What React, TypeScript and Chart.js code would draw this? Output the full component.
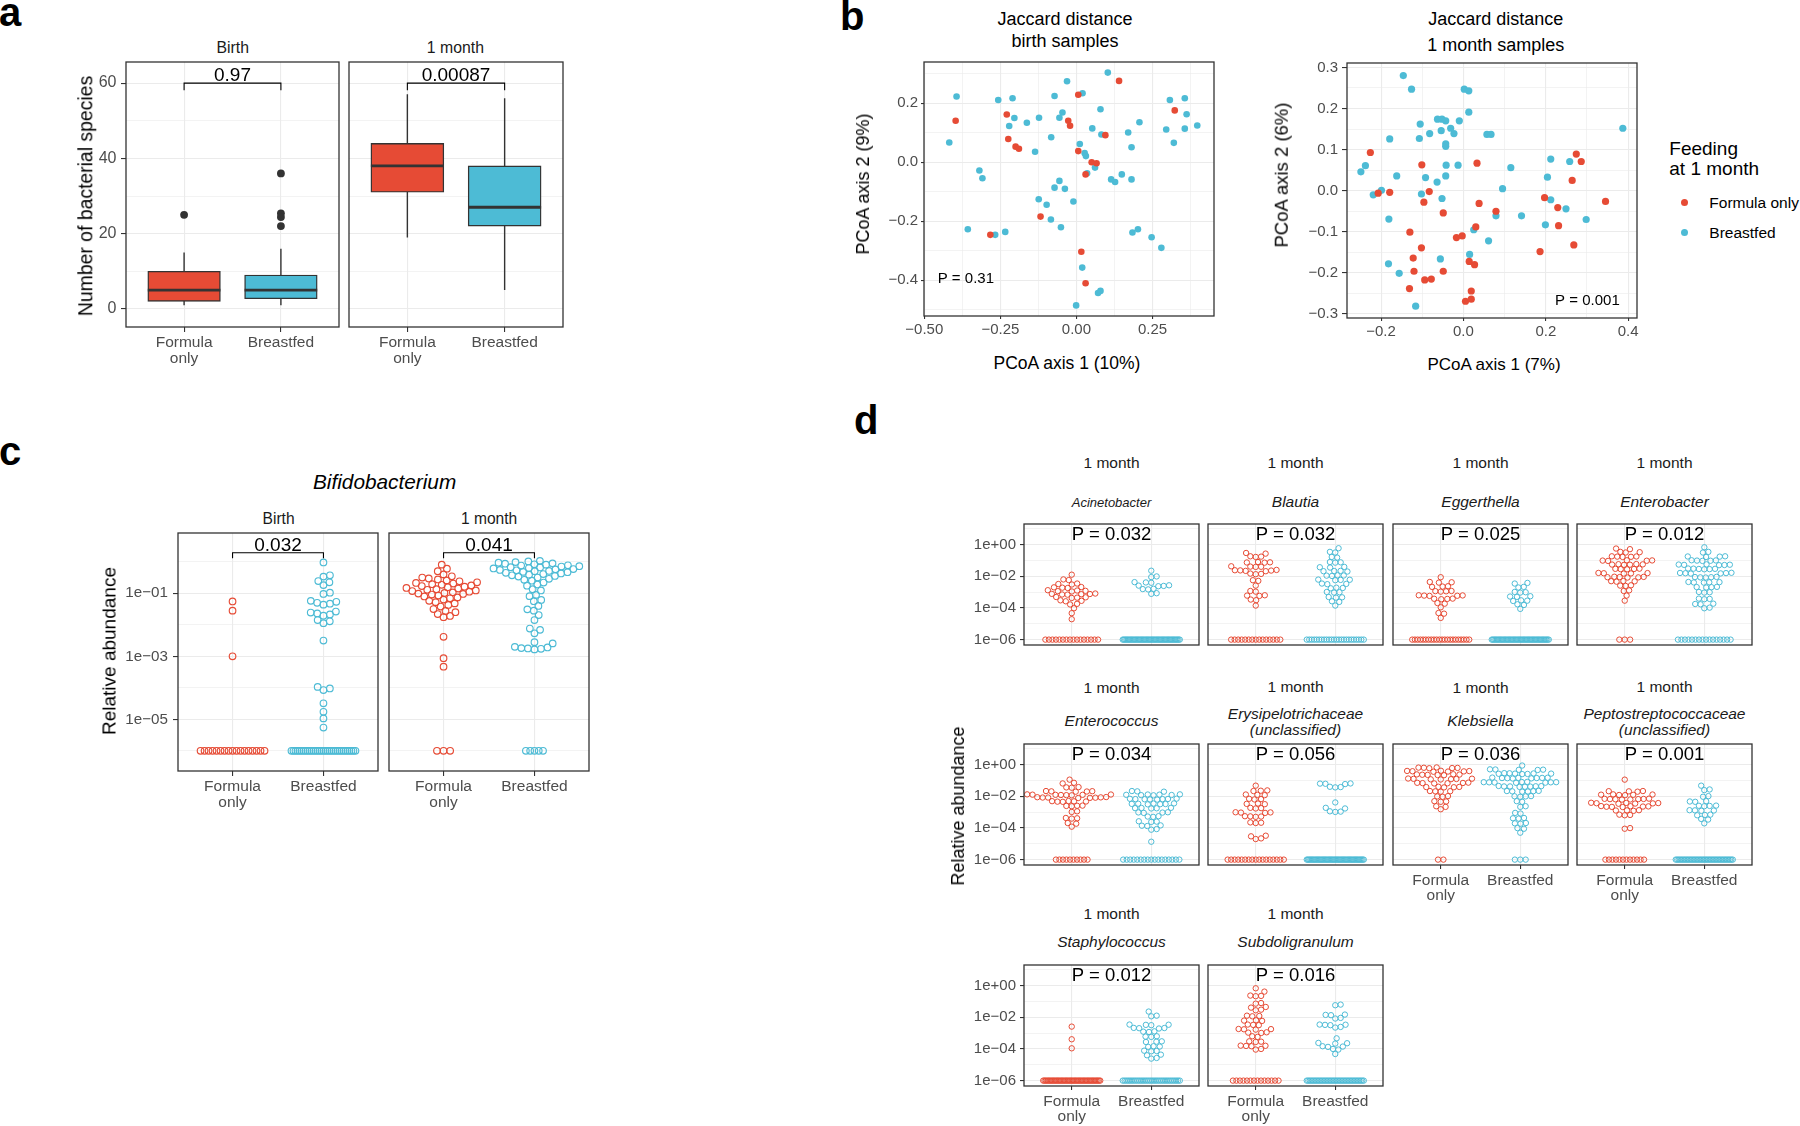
import React, { useEffect, useRef } from "react";
import { Chart, registerables } from "chart.js";

Chart.register(...registerables);

const FONT = "'Liberation Sans', Arial, Helvetica, sans-serif";
const RED = "#E64B35";
const BLUE = "#4DBBD5";
const GRID = "#EBEBEB";
const FRAME = "#333333";
const TICK_TEXT = "#4D4D4D";
const STRIP_TEXT = "#1A1A1A";
const MINUS = "\u2212";

// ================= DATA =================
const feedingGroups = ["Formula only", "Breastfed"];
const feedingTickLabels: string[][] = [["Formula", "only"], ["Breastfed"]];
const timepointLabels = ["Birth", "1 month"];

// ---- a: number of bacterial species, box stats [lower whisker, Q1, median, Q3, upper whisker]
const speciesBirthFormula = [1, 2, 5, 10, 15];
const speciesBirthBreastfed = [1, 2.7, 5, 9, 16];
const speciesMonthFormula = [19, 31, 38, 44, 57];
const speciesMonthBreastfed = [5, 22, 27, 38, 56];
const speciesBirthFormulaOutliers = [25];
const speciesBirthBreastfedOutliers = [36, 25.4, 24.4, 22];
const speciesMonthFormulaOutliers: number[] = [];
const speciesMonthBreastfedOutliers: number[] = [];
const speciesPValues = ["0.97", "0.00087"];
const speciesBracket = [58.1, 60];
const speciesTicks = [0, 20, 40, 60];
const speciesTickLabels = ["0", "20", "40", "60"];
const speciesMinorTicks = [10, 30, 50];

// ---- b: PCoA (Jaccard) coordinates [axis1, axis2]
const pcoaBirthFormula = [
  [-0.397, 0.141], [-0.229, 0.162], [-0.224, 0.079], [-0.2, 0.053], [-0.189, 0.046], [-0.027, 0.141],
  [-0.021, 0.124], [0.006, 0.229], [0.14, 0.276], [0.006, 0.038], [0.095, 0.092], [0.05, 0.0],
  [0.066, -0.003], [0.03, -0.041], [0.323, 0.176], [-0.118, -0.184], [-0.283, -0.246], [0.016, -0.303],
  [0.03, -0.41],
];
const pcoaBirthBreastfed = [
  [-0.394, 0.223], [-0.418, 0.067], [-0.257, 0.211], [-0.21, 0.217], [-0.204, 0.15], [-0.221, 0.123],
  [-0.163, 0.134], [-0.136, 0.036], [-0.123, 0.151], [-0.072, 0.225], [-0.031, 0.275], [-0.083, 0.085],
  [-0.056, 0.151], [-0.046, 0.169], [0.02, 0.234], [0.103, 0.304], [0.079, 0.18], [0.052, 0.115],
  [0.082, 0.094], [0.011, 0.062], [0.027, 0.031], [0.031, 0.021], [0.061, -0.018], [0.035, -0.037],
  [0.17, 0.101], [0.181, 0.051], [0.207, 0.136], [0.114, -0.058], [0.127, -0.067], [0.149, -0.041],
  [0.181, -0.058], [0.295, 0.111], [0.307, 0.211], [0.356, 0.217], [0.362, 0.163], [0.356, 0.114],
  [0.32, 0.066], [0.397, 0.125], [-0.319, -0.028], [-0.309, -0.054], [-0.357, -0.227], [-0.267, -0.246],
  [-0.234, -0.236], [-0.124, -0.125], [-0.098, -0.144], [-0.072, -0.086], [-0.056, -0.063], [-0.038, -0.09],
  [-0.084, -0.194], [-0.051, -0.22], [-0.01, -0.133], [0.184, -0.238], [0.202, -0.227], [0.247, -0.254],
  [0.279, -0.29], [0.019, -0.357], [0.071, -0.443], [0.079, -0.436], [-0.001, -0.485],
];
const pcoaMonthFormula = [
  [-0.226, 0.093], [-0.207, -0.006], [-0.179, -0.004], [-0.101, 0.063], [-0.083, -0.002], [-0.096, -0.028],
  [0.033, 0.067], [-0.049, -0.054], [0.038, -0.031], [0.079, -0.05], [0.03, -0.088], [-0.017, -0.114],
  [-0.003, -0.11], [-0.13, -0.101], [-0.102, -0.139], [-0.122, -0.164], [-0.12, -0.196], [-0.094, -0.217],
  [-0.078, -0.215], [-0.049, -0.196], [-0.131, -0.238], [0.014, -0.172], [0.027, -0.18], [0.019, -0.244],
  [0.005, -0.269], [0.019, -0.264], [0.274, 0.089], [0.286, 0.071], [0.264, 0.025], [0.345, -0.026],
  [0.197, -0.017], [0.229, -0.041], [0.231, -0.085], [0.268, -0.132], [0.186, -0.148],
];
const pcoaMonthBreastfed = [
  [-0.146, 0.28], [-0.126, 0.247], [0.002, 0.247], [0.013, 0.243], [0.013, 0.191], [-0.01, 0.17],
  [-0.063, 0.174], [-0.052, 0.174], [-0.043, 0.17], [-0.031, 0.152], [-0.023, 0.139], [-0.105, 0.162],
  [-0.082, 0.139], [-0.054, 0.146], [-0.107, 0.127], [-0.179, 0.126], [-0.043, 0.114], [-0.043, 0.108],
  [0.057, 0.137], [0.067, 0.137], [0.387, 0.152], [-0.238, 0.061], [-0.249, 0.046], [-0.162, 0.036],
  [-0.092, 0.032], [-0.064, 0.021], [-0.043, 0.036], [-0.042, 0.062], [-0.013, 0.062], [0.115, 0.056],
  [0.212, 0.077], [0.258, 0.071], [0.204, 0.033], [-0.199, 0.001], [-0.219, -0.01], [-0.102, -0.008],
  [-0.052, -0.019], [0.095, 0.005], [0.212, -0.022], [0.249, -0.044], [-0.181, -0.069], [0.079, -0.061],
  [0.141, -0.061], [0.199, -0.083], [0.298, -0.07], [0.025, -0.095], [0.061, -0.122], [0.015, -0.155],
  [-0.056, -0.166], [-0.182, -0.178], [-0.156, -0.201], [-0.116, -0.281],
];
const pcoaPValues = ["P = 0.31", "P = 0.001"];
const pcoaBirthXTicks = [-0.5, -0.25, 0, 0.25];
const pcoaBirthXLabels = [MINUS + "0.50", MINUS + "0.25", "0.00", "0.25"];
const pcoaBirthXMinor = [-0.375, -0.125, 0.125, 0.375];
const pcoaBirthYTicks = [-0.4, -0.2, 0, 0.2];
const pcoaBirthYLabels = [MINUS + "0.4", MINUS + "0.2", "0.0", "0.2"];
const pcoaBirthYMinor = [-0.5, -0.3, -0.1, 0.1, 0.3];
const pcoaMonthXTicks = [-0.2, 0, 0.2, 0.4];
const pcoaMonthXLabels = [MINUS + "0.2", "0.0", "0.2", "0.4"];
const pcoaMonthXMinor = [-0.1, 0.1, 0.3];
const pcoaMonthYTicks = [-0.3, -0.2, -0.1, 0, 0.1, 0.2, 0.3];
const pcoaMonthYLabels = [MINUS + "0.3", MINUS + "0.2", MINUS + "0.1", "0.0", "0.1", "0.2", "0.3"];
const pcoaMonthYMinor = [-0.25, -0.15, -0.05, 0.05, 0.15, 0.25];

// ---- c: Bifidobacterium relative abundance (log10), plus count of samples at detection floor (1e-06)
const detectionFloorExp = -6;
const bifidoBirthFormula = [-1.26, -1.55, -3.0];
const bifidoBirthFormulaFloor = 17;
const bifidoBirthBreastfed = [
  -0.02, -0.43, -0.47, -0.61, -0.65, -0.74, -0.98, -1.02, -1.24, -1.27, -1.3, -1.33, -1.36, -1.58, -1.61,
  -1.64, -1.67, -1.71, -1.85, -1.89, -1.95, -2.5, -3.97, -4.02, -4.07, -4.49, -4.76, -4.97, -5.26,
];
const bifidoBirthBreastfedFloor = 33;
const bifidoMonthFormula = [
  -0.09, -0.22, -0.3, -0.4, -0.46, -0.5, -0.53, -0.56, -0.59, -0.62, -0.65, -0.67, -0.69, -0.71, -0.73,
  -0.75, -0.77, -0.79, -0.81, -0.83, -0.85, -0.87, -0.89, -0.91, -0.93, -0.95, -0.97, -0.99, -1.01, -1.02,
  -1.04, -1.07, -1.1, -1.13, -1.16, -1.2, -1.24, -1.28, -1.32, -1.37, -1.42, -1.5, -1.56, -1.6, -1.66,
  -1.72, -1.76, -2.38, -3.06, -3.33,
];
const bifidoMonthFormulaFloor = 3;
const bifidoMonthBreastfed = [
  0.03, 0.01, -0.01, -0.03, -0.05, -0.06, -0.08, -0.09, -0.11, -0.12, -0.14, -0.15, -0.17, -0.18, -0.2,
  -0.21, -0.23, -0.24, -0.26, -0.27, -0.29, -0.3, -0.32, -0.33, -0.35, -0.37, -0.39, -0.41, -0.43, -0.45,
  -0.47, -0.5, -0.54, -0.57, -0.6, -0.66, -0.72, -0.76, -0.87, -0.91, -1.05, -1.09, -1.21, -1.25, -1.4,
  -1.51, -1.55, -1.69, -1.85, -2.12, -2.16, -2.27, -2.55, -2.59, -2.7, -2.72, -2.74, -2.75, -2.76, -2.78,
];
const bifidoMonthBreastfedFloor = 5;
const bifidoPValues = ["0.032", "0.041"];
const bifidoBracketExp = [0.111, 0.289];
const bifidoTickExps = [-5, -3, -1];
const bifidoMinorExps = [-6, -4, -2, 0];

// ---- d: genera at 1 month (log10 relative abundance) + counts at detection floor
const generaNames: string[][] = [
  ["Acinetobacter"], ["Blautia"], ["Eggerthella"], ["Enterobacter"],
  ["Enterococcus"], ["Erysipelotrichaceae", "(unclassified)"], ["Klebsiella"], ["Peptostreptococcaceae", "(unclassified)"],
  ["Staphylococcus"], ["Subdoligranulum"],
];
const generaPValues = ["0.032", "0.032", "0.025", "0.012", "0.034", "0.056", "0.036", "0.001", "0.012", "0.016"];
const acinetobacterFormula = [-1.9, -2.2, -2.24, -2.46, -2.49, -2.52, -2.68, -2.7, -2.72, -2.74, -2.88, -2.9, -2.92, -2.94, -2.96, -3.09, -3.11, -3.13, -3.15, -3.12, -3.16, -3.31, -3.33, -3.35, -3.37, -3.52, -3.55, -3.58, -3.74, -3.78, -4.02, -4.33, -4.71];
const acinetobacterBreastfed = [-1.65, -2.01, -2.05, -2.37, -2.39, -2.41, -2.57, -2.59, -2.61, -2.63, -2.79, -2.81, -2.83, -3.07, -3.11];
const blautiaFormula = [-0.53, -0.57, -0.74, -0.76, -0.78, -1.1, -1.12, -1.14, -1.13, -1.37, -1.39, -1.41, -1.4, -1.6, -1.62, -1.64, -1.66, -1.68, -1.63, -1.83, -1.85, -1.87, -2.25, -2.29, -2.59, -2.93, -2.97, -3.2, -3.22, -3.24, -3.47, -3.51, -3.85];
const blautiaBreastfed = [-0.23, -0.46, -0.5, -0.78, -0.82, -1.1, -1.12, -1.14, -1.41, -1.43, -1.45, -1.66, -1.68, -1.7, -1.67, -1.94, -1.96, -1.98, -1.95, -2.21, -2.23, -2.25, -2.22, -2.46, -2.48, -2.5, -2.72, -2.74, -2.76, -2.99, -3.01, -3.03, -3.31, -3.33, -3.35, -3.58, -3.62, -3.85];
const eggerthellaFormula = [-2.06, -2.36, -2.38, -2.4, -2.63, -2.65, -2.67, -2.93, -2.95, -2.97, -2.94, -3.2, -3.22, -3.24, -3.21, -3.23, -3.41, -3.43, -3.45, -3.42, -3.69, -3.73, -3.96, -4.32, -4.36, -4.63];
const eggerthellaBreastfed = [-2.42, -2.46, -2.67, -2.71, -2.99, -3.01, -3.03, -3.26, -3.28, -3.3, -3.52, -3.54, -3.56, -3.77, -3.81, -4.06];
const enterobacterFormula = [-0.25, -0.29, -0.46, -0.48, -0.5, -0.74, -0.76, -0.78, -0.75, -0.77, -0.99, -1.01, -1.03, -1.0, -1.02, -1.24, -1.26, -1.28, -1.25, -1.27, -1.23, -1.52, -1.54, -1.56, -1.53, -1.55, -1.79, -1.81, -1.83, -1.8, -1.82, -2.04, -2.06, -2.08, -2.05, -2.07, -2.03, -2.3, -2.32, -2.34, -2.31, -2.57, -2.59, -2.61, -2.89, -2.93, -3.22, -3.54];
const enterobacterBreastfed = [-0.17, -0.46, -0.5, -0.74, -0.76, -0.78, -0.75, -0.99, -1.01, -1.03, -1.0, -1.02, -1.26, -1.28, -1.3, -1.27, -1.29, -1.25, -1.52, -1.54, -1.56, -1.53, -1.55, -1.51, -1.79, -1.81, -1.83, -1.8, -1.82, -1.78, -2.04, -2.06, -2.08, -2.05, -2.07, -2.36, -2.38, -2.4, -2.37, -2.39, -2.67, -2.69, -2.71, -2.68, -2.99, -3.01, -3.03, -3.41, -3.43, -3.45, -3.73, -3.75, -3.77, -3.98, -4.02];
const enterococcusFormula = [-0.95, -1.15, -1.19, -1.42, -1.44, -1.46, -1.67, -1.69, -1.71, -1.68, -1.7, -1.89, -1.91, -1.93, -1.9, -1.92, -1.88, -1.94, -1.91, -2.06, -2.08, -2.1, -2.07, -2.09, -2.05, -2.11, -2.08, -2.31, -2.33, -2.35, -2.32, -2.34, -2.3, -2.59, -2.61, -2.63, -2.6, -2.95, -2.99, -3.37, -3.39, -3.41, -3.69, -3.73, -3.92];
const enterococcusBreastfed = [-1.67, -1.69, -1.71, -1.89, -1.91, -1.93, -1.9, -1.92, -1.88, -1.94, -2.16, -2.18, -2.2, -2.17, -2.19, -2.15, -2.21, -2.18, -2.46, -2.48, -2.5, -2.47, -2.49, -2.45, -2.51, -2.73, -2.75, -2.77, -2.74, -2.76, -3.01, -3.03, -3.05, -3.02, -3.26, -3.28, -3.3, -3.58, -3.6, -3.62, -3.84, -3.86, -3.88, -4.07, -4.11, -4.87];
const erysipeloFormula = [-1.33, -1.63, -1.65, -1.67, -1.89, -1.91, -1.93, -2.16, -2.18, -2.2, -2.46, -2.48, -2.5, -2.73, -2.75, -2.77, -3.01, -3.03, -3.05, -3.02, -3.26, -3.28, -3.3, -3.27, -3.65, -3.67, -3.69, -4.49, -4.53, -4.66, -4.7];
const erysipeloBreastfed = [-1.19, -1.21, -1.23, -1.2, -1.4, -1.42, -1.44, -2.39, -2.73, -2.77, -2.95, -2.97, -2.99];
const klebsiellaFormula = [-0.19, -0.21, -0.23, -0.2, -0.22, -0.18, -0.4, -0.42, -0.44, -0.41, -0.43, -0.39, -0.45, -0.62, -0.64, -0.66, -0.63, -0.65, -0.61, -0.67, -0.89, -0.91, -0.93, -0.9, -0.92, -0.88, -0.94, -1.15, -1.17, -1.19, -1.16, -1.18, -1.14, -1.4, -1.42, -1.44, -1.41, -1.43, -1.67, -1.69, -1.71, -1.68, -1.99, -2.01, -2.03, -2.31, -2.33, -2.35, -2.63, -2.67, -2.82];
const klebsiellaBreastfed = [-0.06, -0.3, -0.32, -0.34, -0.31, -0.33, -0.55, -0.57, -0.59, -0.56, -0.58, -0.54, -0.6, -0.57, -0.83, -0.85, -0.87, -0.84, -0.86, -0.82, -0.88, -0.85, -0.84, -1.1, -1.12, -1.14, -1.11, -1.13, -1.09, -1.15, -1.12, -1.11, -1.36, -1.38, -1.4, -1.37, -1.39, -1.35, -1.41, -1.38, -1.67, -1.69, -1.71, -1.68, -1.7, -1.66, -1.99, -2.01, -2.03, -2.0, -2.31, -2.35, -2.63, -2.67, -3.05, -3.09, -3.37, -3.39, -3.41, -3.69, -3.71, -3.73, -4.01, -4.05, -4.3];
const peptoFormula = [-0.95, -1.67, -1.69, -1.71, -1.68, -1.89, -1.91, -1.93, -1.9, -1.92, -1.88, -2.16, -2.18, -2.2, -2.17, -2.19, -2.15, -2.21, -2.18, -2.42, -2.44, -2.46, -2.43, -2.45, -2.41, -2.47, -2.63, -2.65, -2.67, -2.64, -2.66, -2.62, -2.68, -2.88, -2.9, -2.92, -2.89, -3.16, -3.18, -3.2, -4.01, -4.05];
const peptoBreastfed = [-1.33, -1.57, -1.61, -1.99, -2.03, -2.31, -2.33, -2.35, -2.59, -2.61, -2.63, -2.6, -2.88, -2.9, -2.92, -2.89, -3.16, -3.18, -3.2, -3.43, -3.47, -3.71];
const staphFormula = [-2.59, -3.39, -3.96];
const staphBreastfed = [-1.64, -1.9, -1.94, -2.46, -2.48, -2.5, -2.47, -2.67, -2.69, -2.71, -2.68, -2.89, -2.91, -2.93, -3.2, -3.22, -3.24, -3.52, -3.54, -3.56, -3.83, -3.85, -3.87, -4.11, -4.13, -4.15, -4.36, -4.4, -4.57, -4.61];
const subdoliFormula = [-0.17, -0.38, -0.63, -0.65, -0.67, -1.1, -1.14, -1.35, -1.39, -1.52, -1.56, -1.9, -1.92, -1.94, -2.19, -2.21, -2.23, -2.46, -2.48, -2.5, -2.74, -2.76, -2.78, -2.75, -2.95, -2.97, -2.99, -3.2, -3.24, -3.52, -3.54, -3.56, -3.79, -3.81, -3.83, -3.8, -4.0, -4.04];
const subdoliBreastfed = [-1.2, -1.24, -1.83, -1.85, -1.87, -2.04, -2.08, -2.46, -2.48, -2.5, -2.47, -2.61, -2.65, -3.33, -3.62, -3.64, -3.66, -3.83, -3.85, -3.87, -4.0, -4.04, -4.32];
const generaFormula = [acinetobacterFormula, blautiaFormula, eggerthellaFormula, enterobacterFormula, enterococcusFormula, erysipeloFormula, klebsiellaFormula, peptoFormula, staphFormula, subdoliFormula];
const generaBreastfed = [acinetobacterBreastfed, blautiaBreastfed, eggerthellaBreastfed, enterobacterBreastfed, enterococcusBreastfed, erysipeloBreastfed, klebsiellaBreastfed, peptoBreastfed, staphBreastfed, subdoliBreastfed];
const generaFormulaFloor = [16, 15, 22, 3, 10, 17, 2, 12, 45, 14];
const generaBreastfedFloor = [47, 24, 46, 16, 17, 49, 3, 40, 32, 39];
const generaTickExps = [-6, -4, -2, 0];
const generaMinorExps = [-5, -3, -1, 1];

// ================= LAYOUT =================
type Geom = { left: number; top: number; width: number; height: number; yAxis: number; xAxis: number };
const PAD = 3;
const A_GEOM: Geom[] = [
  { left: 126, top: 62, width: 213, height: 265, yAxis: 60, xAxis: 44 },
  { left: 349, top: 62, width: 214, height: 265, yAxis: 0, xAxis: 44 },
];
const A_Y = [-4.8, 65.6];
const B_GEOM: Geom[] = [
  { left: 924, top: 62, width: 290, height: 254, yAxis: 60, xAxis: 30 },
  { left: 1347, top: 63, width: 290, height: 255, yAxis: 60, xAxis: 30 },
];
const B_RANGE = [
  { x: [-0.501, 0.452], y: [-0.521, 0.34] },
  { x: [-0.2827, 0.4214], y: [-0.3097, 0.3107] },
];
const C_GEOM: Geom[] = [
  { left: 178, top: 533, width: 200, height: 238, yAxis: 60, xAxis: 44 },
  { left: 389, top: 533, width: 200, height: 238, yAxis: 0, xAxis: 44 },
];
const C_Y = [-6.64, 0.914];
const D_COLS = [1024, 1208, 1393, 1577];
const D_ROWS = [524, 744, 965];
const D_W = 175;
const D_H = 121;
const D_Y = [-6.34, 1.3];
const X_RANGE = [0.4, 2.6];

function expLabel(e: number) {
  const s = e < 0 ? MINUS : "+";
  return "1e" + s + String(Math.abs(e)).padStart(2, "0");
}

const near = (a: number, b: number) => Math.abs(a - b) < 1e-7;

function zeroPadding(s: any) {
  s.paddingTop = 0;
  s.paddingBottom = 0;
  s.paddingLeft = 0;
  s.paddingRight = 0;
}

function linAxis(o: any) {
  const isMajor = (v: number) => o.major.some((m: number) => near(m, v));
  return {
    type: "linear",
    min: o.min,
    max: o.max,
    bounds: "data",
    offset: false,
    afterBuildTicks: (s: any) => {
      s.ticks = [...o.major, ...o.minor].map((v: number) => ({ value: v }));
    },
    afterFit: (s: any) => {
      if (o.horizontal) s.height = o.fit;
      else s.width = o.fit;
      zeroPadding(s);
    },
    ticks: {
      display: o.show,
      autoSkip: false,
      maxRotation: 0,
      minRotation: 0,
      padding: o.pad,
      font: { family: FONT, size: o.size, lineHeight: o.lineHeight ?? 1.2 },
      color: TICK_TEXT,
      callback: (v: number) => {
        const i = o.major.findIndex((m: number) => near(m, v));
        return i >= 0 ? o.labels[i] : "";
      },
    },
    grid: {
      offset: false,
      drawTicks: o.show,
      tickLength: o.tickLen,
      tickWidth: 1.1,
      color: GRID,
      lineWidth: (c: any) => (c.tick && isMajor(c.tick.value) ? 1.1 : 0.6),
      tickColor: (c: any) => (c.tick && isMajor(c.tick.value) ? FRAME : "rgba(0,0,0,0)"),
    },
    border: { display: false },
  };
}

function logAxis(o: any) {
  const isMajor = (v: number) => o.major.some((e: number) => Math.abs(Math.log10(v) - e) < 1e-6);
  return {
    type: "logarithmic",
    min: Math.pow(10, o.min),
    max: Math.pow(10, o.max),
    bounds: "data",
    afterBuildTicks: (s: any) => {
      s.ticks = [...o.major, ...o.minor].map((e: number) => ({ value: Math.pow(10, e) }));
    },
    afterFit: (s: any) => {
      s.width = o.fit;
      zeroPadding(s);
    },
    ticks: {
      display: o.show,
      autoSkip: false,
      padding: o.pad ?? 4,
      font: { family: FONT, size: o.size },
      color: TICK_TEXT,
      callback: (v: number) => (isMajor(v) ? expLabel(Math.round(Math.log10(v))) : ""),
    },
    grid: {
      drawTicks: o.show,
      tickLength: o.tickLen ?? 4,
      tickWidth: 1.1,
      color: GRID,
      lineWidth: (c: any) => (c.tick && isMajor(c.tick.value) ? 1.1 : 0.6),
      tickColor: (c: any) => (c.tick && isMajor(c.tick.value) ? FRAME : "rgba(0,0,0,0)"),
    },
    border: { display: false },
  };
}

function catAxis(o: any) {
  return linAxis({
    min: X_RANGE[0],
    max: X_RANGE[1],
    major: [1, 2],
    minor: [],
    labels: feedingTickLabels,
    show: o.show,
    size: o.size,
    lineHeight: o.lineHeight,
    pad: o.pad,
    tickLen: o.tickLen ?? 4,
    fit: o.fit,
    horizontal: true,
  });
}

type TextItem = { text: string; x: number; y: number; dy?: number; size: number; align?: CanvasTextAlign };
function decor(texts: TextItem[]) {
  return {
    id: "decor",
    afterDatasetsDraw(chart: any) {
      const { ctx, chartArea: a, scales } = chart;
      ctx.save();
      for (const t of texts) {
        ctx.font = `${t.size}px ${FONT}`;
        ctx.fillStyle = "#000";
        ctx.textAlign = t.align ?? "center";
        ctx.textBaseline = "alphabetic";
        ctx.fillText(t.text, scales.x.getPixelForValue(t.x), scales.y.getPixelForValue(t.y) + (t.dy ?? 0));
      }
      ctx.strokeStyle = FRAME;
      ctx.lineWidth = 1.3;
      ctx.strokeRect(a.left, a.top, a.right - a.left, a.bottom - a.top);
      ctx.restore();
    },
  };
}

function baseOptions(scales: any) {
  return {
    responsive: false,
    animation: false,
    events: [],
    layout: { autoPadding: false, padding: { left: PAD, top: PAD, right: PAD, bottom: PAD } },
    plugins: { legend: { display: false }, tooltip: { enabled: false }, title: { display: false } },
    scales,
  };
}

// ---------- beeswarm layout (positions only, from values) ----------
function swarmOffsets(values: number[], pxPerDecade: number, pxPerUnit: number, spacing: number): number[] {
  const order = values.map((_, i) => i).sort((a, b) => values[a] - values[b]);
  const placed: { x: number; y: number }[] = [];
  const out: number[] = values.map(() => 0);
  const d2 = spacing * spacing;
  for (const idx of order) {
    const y = values[idx] * pxPerDecade;
    const cands = [0];
    for (const q of placed) {
      const dy = y - q.y;
      if (Math.abs(dy) < spacing) {
        const dx = Math.sqrt(d2 - dy * dy);
        cands.push(q.x + dx, q.x - dx);
      }
    }
    cands.sort((a, b) => Math.abs(a) - Math.abs(b));
    let chosen = 0;
    for (const c of cands) {
      let ok = true;
      for (const q of placed) {
        const dx = c - q.x;
        const dy = y - q.y;
        if (dx * dx + dy * dy < d2 - 1e-6) {
          ok = false;
          break;
        }
      }
      if (ok) {
        chosen = c;
        break;
      }
    }
    placed.push({ x: chosen, y });
    out[idx] = chosen / pxPerUnit;
  }
  return out;
}

function floorOffsets(count: number, spacing: number, pxPerUnit: number, maxWidth: number): number[] {
  const step = count <= 3 ? spacing : Math.min(spacing * 0.65, maxWidth / Math.max(1, count - 1));
  const out: number[] = [];
  for (let i = 0; i < count; i++) out.push(((i - (count - 1) / 2) * step) / pxPerUnit);
  return out;
}

function swarmData(values: number[], floorCount: number, cat: number, sw: any) {
  const offs = swarmOffsets(values, sw.pxPerDecade, sw.pxPerUnit, sw.spacing);
  const pts = values.map((v, i) => ({ x: cat + offs[i], y: Math.pow(10, v) }));
  const fl = floorOffsets(floorCount, sw.spacing, sw.pxPerUnit, sw.floorWidth);
  for (const o of fl) pts.push({ x: cat + o, y: Math.pow(10, detectionFloorExp) });
  return pts;
}

const SW_C = { pxPerDecade: 238 / (C_Y[1] - C_Y[0]), pxPerUnit: 200 / 2.2, spacing: 6.6, floorWidth: 64 };
const SW_D = { pxPerDecade: D_H / (D_Y[1] - D_Y[0]), pxPerUnit: D_W / 2.2, spacing: 5.4, floorWidth: 57 };

// ---------- chart configs ----------
function boxChart(stats: number[][], outliers: number[][], pText: string, showY: boolean, geom: Geom) {
  const colors = [RED, BLUE];
  const boxPx = (0.75 * geom.width) / (X_RANGE[1] - X_RANGE[0]);
  const datasets: any[] = [
    {
      type: "scatter",
      order: 4,
      showLine: true,
      spanGaps: false,
      borderColor: FRAME,
      borderWidth: 1.4,
      pointRadius: 0,
      data: stats.flatMap((s, i) => [{ x: i + 1, y: s[0] }, { x: i + 1, y: s[4] }, { x: i + 1, y: null }]),
    },
    {
      type: "bar",
      order: 3,
      data: stats.map((s, i) => ({ x: i + 1, y: [s[1], s[3]] })),
      backgroundColor: colors,
      borderColor: FRAME,
      borderWidth: 1.4,
      borderSkipped: false,
      barThickness: boxPx,
    },
    {
      type: "scatter",
      order: 2,
      showLine: true,
      spanGaps: false,
      borderColor: FRAME,
      borderWidth: 2.9,
      pointRadius: 0,
      data: stats.flatMap((s, i) => [{ x: i + 0.625, y: s[2] }, { x: i + 1.375, y: s[2] }, { x: i + 1, y: null }]),
    },
    {
      type: "scatter",
      order: 1,
      pointRadius: 3.9,
      pointBackgroundColor: FRAME,
      pointBorderWidth: 0,
      data: outliers.flatMap((o, i) => o.map((v) => ({ x: i + 1, y: v }))),
    },
    {
      type: "scatter",
      order: 0,
      showLine: true,
      borderColor: "#000",
      borderWidth: 1.1,
      pointRadius: 0,
      data: [
        { x: 1, y: speciesBracket[0] }, { x: 1, y: speciesBracket[1] },
        { x: 2, y: speciesBracket[1] }, { x: 2, y: speciesBracket[0] },
      ],
    },
  ];
  return {
    type: "scatter",
    data: { datasets },
    options: baseOptions({
      x: catAxis({ show: true, size: 15.5, lineHeight: 1.03, pad: 2.5, tickLen: 5, fit: geom.xAxis }),
      y: linAxis({
        min: A_Y[0], max: A_Y[1], major: speciesTicks, minor: speciesMinorTicks, labels: speciesTickLabels,
        show: showY, size: 16, pad: 4.5, tickLen: 5, fit: geom.yAxis, horizontal: false,
      }),
    }),
    plugins: [decor([{ text: pText, x: 1.5, y: speciesBracket[1], dy: -2.2, size: 19 }])],
  };
}

function pcoaChart(idx: number, formula: number[][], breastfed: number[][], geom: Geom) {
  const r = B_RANGE[idx];
  const xt = idx === 0 ? [pcoaBirthXTicks, pcoaBirthXMinor, pcoaBirthXLabels] : [pcoaMonthXTicks, pcoaMonthXMinor, pcoaMonthXLabels];
  const yt = idx === 0 ? [pcoaBirthYTicks, pcoaBirthYMinor, pcoaBirthYLabels] : [pcoaMonthYTicks, pcoaMonthYMinor, pcoaMonthYLabels];
  const pPos = idx === 0 ? { x: -0.456, y: -0.409 } : { x: 0.2226, y: -0.277 };
  const rad = idx === 0 ? 3.3 : 3.6;
  return {
    type: "scatter",
    data: {
      datasets: [
        { order: 0, data: formula.map((p) => ({ x: p[0], y: p[1] })), pointRadius: rad, pointBorderWidth: 0, pointBackgroundColor: RED },
        { order: 1, data: breastfed.map((p) => ({ x: p[0], y: p[1] })), pointRadius: rad, pointBorderWidth: 0, pointBackgroundColor: BLUE },
      ],
    },
    options: baseOptions({
      x: linAxis({
        min: r.x[0], max: r.x[1], major: xt[0], minor: xt[1], labels: xt[2], show: true, size: 15, pad: 2,
        tickLen: 3, fit: geom.xAxis, horizontal: true,
      }),
      y: linAxis({
        min: r.y[0], max: r.y[1], major: yt[0], minor: yt[1], labels: yt[2], show: true, size: 15, pad: idx === 0 ? 3 : 4,
        tickLen: idx === 0 ? 3 : 5, fit: geom.yAxis, horizontal: false,
      }),
    }),
    plugins: [decor([{ text: pcoaPValues[idx], x: pPos.x, y: pPos.y, size: 15, align: "left" }])],
  };
}

function swarmChart(o: any) {
  const datasets: any[] = [
    {
      order: 1,
      data: swarmData(o.formula, o.formulaFloor, 1, o.sw),
      pointRadius: o.r,
      pointBorderWidth: o.bw,
      pointBorderColor: RED,
      pointBackgroundColor: "rgba(0,0,0,0)",
    },
    {
      order: 2,
      data: swarmData(o.breastfed, o.breastfedFloor, 2, o.sw),
      pointRadius: o.r,
      pointBorderWidth: o.bw,
      pointBorderColor: BLUE,
      pointBackgroundColor: "rgba(0,0,0,0)",
    },
  ];
  if (o.bracket) {
    const lo = Math.pow(10, o.bracket[0]);
    const hi = Math.pow(10, o.bracket[1]);
    datasets.push({
      order: 0,
      showLine: true,
      borderColor: "#000",
      borderWidth: 1.1,
      pointRadius: 0,
      data: [{ x: 1, y: lo }, { x: 1, y: hi }, { x: 2, y: hi }, { x: 2, y: lo }],
    });
  }
  return {
    type: "scatter",
    data: { datasets },
    options: baseOptions({
      x: catAxis({ show: o.showX, size: o.xSize, lineHeight: o.xLH, pad: o.xPad, tickLen: o.tickLen, fit: o.geom.xAxis }),
      y: logAxis({
        min: o.range[0], max: o.range[1], major: o.major, minor: o.minor, show: o.showY, size: o.ySize,
        fit: o.geom.yAxis, pad: o.yPad, tickLen: o.tickLen,
      }),
    }),
    plugins: [decor(o.texts)],
  };
}

// ================= COMPONENTS =================
function ChartBox({ geom, make }: { geom: Geom; make: () => any }) {
  const ref = useRef<HTMLCanvasElement | null>(null);
  useEffect(() => {
    if (!ref.current) return;
    const chart = new Chart(ref.current, make());
    return () => chart.destroy();
  }, []);
  const w = geom.width + geom.yAxis + 2 * PAD;
  const h = geom.height + geom.xAxis + 2 * PAD;
  return (
    <canvas
      ref={ref}
      width={w}
      height={h}
      style={{ position: "absolute", left: geom.left - geom.yAxis - PAD, top: geom.top - PAD, width: w, height: h }}
    />
  );
}

function Label(p: { x: number; y: number; text: string; size: number; weight?: number; italic?: boolean; color?: string; align?: string }) {
  const shift = p.align === "left" ? "0" : p.align === "right" ? "-100%" : "-50%";
  return (
    <div
      style={{
        position: "absolute",
        left: p.x,
        top: p.y - 0.8465 * p.size,
        fontFamily: FONT,
        fontSize: p.size,
        lineHeight: `${p.size}px`,
        fontWeight: p.weight ?? 400,
        fontStyle: p.italic ? "italic" : "normal",
        color: p.color ?? "#000",
        whiteSpace: "nowrap",
        transform: `translateX(${shift})`,
      }}
    >
      {p.text}
    </div>
  );
}

function VLabel(p: { cx: number; cy: number; text: string; size: number }) {
  return (
    <div
      style={{
        position: "absolute",
        left: p.cx,
        top: p.cy,
        fontFamily: FONT,
        fontSize: p.size,
        lineHeight: `${p.size}px`,
        color: "#000",
        whiteSpace: "nowrap",
        transform: "translate(-50%, -50%) rotate(-90deg)",
      }}
    >
      {p.text}
    </div>
  );
}

export default function App() {
  useEffect(() => {
    document.body.style.margin = "0";
  }, []);

  const charts: { key: string; geom: Geom; make: () => any }[] = [];
  // a
  charts.push({
    key: "a0",
    geom: A_GEOM[0],
    make: () => boxChart([speciesBirthFormula, speciesBirthBreastfed], [speciesBirthFormulaOutliers, speciesBirthBreastfedOutliers], speciesPValues[0], true, A_GEOM[0]),
  });
  charts.push({
    key: "a1",
    geom: A_GEOM[1],
    make: () => boxChart([speciesMonthFormula, speciesMonthBreastfed], [speciesMonthFormulaOutliers, speciesMonthBreastfedOutliers], speciesPValues[1], false, A_GEOM[1]),
  });
  // b
  charts.push({ key: "b0", geom: B_GEOM[0], make: () => pcoaChart(0, pcoaBirthFormula, pcoaBirthBreastfed, B_GEOM[0]) });
  charts.push({ key: "b1", geom: B_GEOM[1], make: () => pcoaChart(1, pcoaMonthFormula, pcoaMonthBreastfed, B_GEOM[1]) });
  // c
  const cSets = [
    [bifidoBirthFormula, bifidoBirthFormulaFloor, bifidoBirthBreastfed, bifidoBirthBreastfedFloor],
    [bifidoMonthFormula, bifidoMonthFormulaFloor, bifidoMonthBreastfed, bifidoMonthBreastfedFloor],
  ] as any[];
  cSets.forEach((s, i) => {
    charts.push({
      key: "c" + i,
      geom: C_GEOM[i],
      make: () =>
        swarmChart({
          formula: s[0], formulaFloor: s[1], breastfed: s[2], breastfedFloor: s[3], sw: SW_C, r: 3.3, bw: 1.15,
          showX: true, xSize: 15.5, xLH: 1.05, xPad: 2.2, tickLen: 5, showY: i === 0, ySize: 15.2, yPad: 5, geom: C_GEOM[i],
          range: C_Y, major: bifidoTickExps, minor: bifidoMinorExps, bracket: bifidoBracketExp,
          texts: [{ text: bifidoPValues[i], x: 1.5, y: Math.pow(10, bifidoBracketExp[1]), dy: -1.5, size: 19 }],
        }),
    });
  });
  // d
  const dGeoms: Geom[] = [];
  generaNames.forEach((_, i) => {
    const row = Math.floor(i / 4);
    const col = i % 4;
    const showX = i >= 6;
    const g: Geom = { left: D_COLS[col], top: D_ROWS[row], width: D_W, height: D_H, yAxis: col === 0 ? 60 : 0, xAxis: showX ? 42 : 0 };
    dGeoms.push(g);
    charts.push({
      key: "d" + i,
      geom: g,
      make: () =>
        swarmChart({
          formula: generaFormula[i], formulaFloor: generaFormulaFloor[i], breastfed: generaBreastfed[i],
          breastfedFloor: generaBreastfedFloor[i], sw: SW_D, r: 2.7, bw: 1.0, showX, xSize: 15.5, xLH: 1.0, xPad: 3.5,
          tickLen: 4, showY: col === 0, ySize: 15, yPad: 4, geom: g, range: D_Y, major: generaTickExps, minor: generaMinorExps,
          texts: [{ text: "P = " + generaPValues[i], x: 1.5, y: Math.pow(10, D_Y[1]), dy: 15.5, size: 18.5 }],
        }),
    });
  });

  const stripRowBase = [468, 693, 919];
  const genusRowBase = [507, 726, 947];

  return (
    <div style={{ position: "absolute", left: 0, top: 0, width: 1800, height: 1126, background: "#fff", overflow: "hidden" }}>
      {charts.map((c) => (
        <ChartBox key={c.key} geom={c.geom} make={c.make} />
      ))}

      {/* panel letters */}
      <Label x={-1} y={26} text="a" size={40} weight={700} align="left" />
      <Label x={840} y={30} text="b" size={40} weight={700} align="left" />
      <Label x={-1} y={465} text="c" size={40} weight={700} align="left" />
      <Label x={854} y={434} text="d" size={40} weight={700} align="left" />

      {/* a */}
      <Label x={232.7} y={53} text={timepointLabels[0]} size={15.8} color={STRIP_TEXT} />
      <Label x={455.4} y={53} text={timepointLabels[1]} size={15.8} color={STRIP_TEXT} />
      <VLabel cx={85.7} cy={196} text="Number of bacterial species" size={19.4} />

      {/* b */}
      <Label x={1065} y={25} text="Jaccard distance" size={18} />
      <Label x={1065} y={47} text="birth samples" size={18} />
      <Label x={1495.8} y={25} text="Jaccard distance" size={18} />
      <Label x={1495.8} y={51.7} text="1 month samples" size={18} />
      <Label x={1067} y={370} text="PCoA axis 1 (10%)" size={17.5} />
      <Label x={1494} y={370} text="PCoA axis 1 (7%)" size={17} />
      <VLabel cx={863} cy={184} text="PCoA axis 2 (9%)" size={18} />
      <VLabel cx={1282.4} cy={175} text="PCoA axis 2 (6%)" size={18.5} />
      <Label x={1669.3} y={155} text="Feeding" size={19} align="left" />
      <Label x={1669.3} y={175} text="at 1 month" size={19} align="left" />
      <div style={{ position: "absolute", left: 1684.3 - 3.8, top: 202.3 - 3.8, width: 7.6, height: 7.6, borderRadius: "50%", background: RED }} />
      <div style={{ position: "absolute", left: 1684.3 - 3.8, top: 232.3 - 3.8, width: 7.6, height: 7.6, borderRadius: "50%", background: BLUE }} />
      <Label x={1709.3} y={208.3} text={feedingGroups[0]} size={15.5} align="left" />
      <Label x={1709.3} y={238.3} text={feedingGroups[1]} size={15.5} align="left" />

      {/* c */}
      <Label x={384.6} y={490} text="Bifidobacterium" size={20.8} italic />
      <Label x={278.6} y={524} text={timepointLabels[0]} size={15.6} color={STRIP_TEXT} />
      <Label x={489.1} y={524} text={timepointLabels[1]} size={15.6} color={STRIP_TEXT} />
      <VLabel cx={108.5} cy={651} text="Relative abundance" size={19} />

      {/* d */}
      <VLabel cx={958} cy={806} text="Relative abundance" size={18} />
      {generaNames.map((name, i) => {
        const row = Math.floor(i / 4);
        const cx = dGeoms[i].left + D_W / 2;
        const two = name.length > 1;
        const size = name[0] === "Acinetobacter" ? 13 : 15.5;
        return (
          <React.Fragment key={"dl" + i}>
            <Label x={cx} y={two ? stripRowBase[row] - 1 : stripRowBase[row]} text={timepointLabels[1]} size={15.5} color={STRIP_TEXT} />
            {two ? (
              <>
                <Label x={cx} y={719} text={name[0]} size={15.5} italic color={STRIP_TEXT} />
                <Label x={cx} y={735} text={name[1]} size={15.5} italic color={STRIP_TEXT} />
              </>
            ) : (
              <Label x={cx} y={genusRowBase[row]} text={name[0]} size={size} italic color={STRIP_TEXT} />
            )}
          </React.Fragment>
        );
      })}
    </div>
  );
}
